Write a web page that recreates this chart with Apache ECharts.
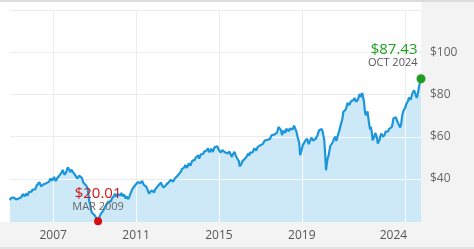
<!DOCTYPE html>
<html><head><meta charset="utf-8">
<script src="https://cdn.jsdelivr.net/npm/echarts@6/dist/echarts.min.js"></script>
<style>html,body{margin:0;padding:0;background:#f3f3f3;overflow:hidden}#c{width:474px;height:249px}</style>
</head><body><div id="c"></div>
<script>
// month-start dates and closing values
const dates = [
'2004-12',
'2005-01','2005-02','2005-03','2005-04','2005-05','2005-06','2005-07','2005-08','2005-09','2005-10','2005-11','2005-12',
'2006-01','2006-02','2006-03','2006-04','2006-05','2006-06','2006-07','2006-08','2006-09','2006-10','2006-11','2006-12',
'2007-01','2007-02','2007-03','2007-04','2007-05','2007-06','2007-07','2007-08','2007-09','2007-10','2007-11','2007-12',
'2008-01','2008-02','2008-03','2008-04','2008-05','2008-06','2008-07','2008-08','2008-09','2008-10','2008-11','2008-12',
'2009-01','2009-02','2009-03','2009-04','2009-05','2009-06','2009-07','2009-08','2009-09','2009-10','2009-11','2009-12',
'2010-01','2010-02','2010-03','2010-04','2010-05','2010-06','2010-07','2010-08','2010-09','2010-10','2010-11','2010-12',
'2011-01','2011-02','2011-03','2011-04','2011-05','2011-06','2011-07','2011-08','2011-09','2011-10','2011-11','2011-12',
'2012-01','2012-02','2012-03','2012-04','2012-05','2012-06','2012-07','2012-08','2012-09','2012-10','2012-11','2012-12',
'2013-01','2013-02','2013-03','2013-04','2013-05','2013-06','2013-07','2013-08','2013-09','2013-10','2013-11','2013-12',
'2014-01','2014-02','2014-03','2014-04','2014-05','2014-06','2014-07','2014-08','2014-09','2014-10','2014-11','2014-12',
'2015-01','2015-02','2015-03','2015-04','2015-05','2015-06','2015-07','2015-08','2015-09','2015-10','2015-11','2015-12',
'2016-01','2016-02','2016-03','2016-04','2016-05','2016-06','2016-07','2016-08','2016-09','2016-10','2016-11','2016-12',
'2017-01','2017-02','2017-03','2017-04','2017-05','2017-06','2017-07','2017-08','2017-09','2017-10','2017-11','2017-12',
'2018-01','2018-02','2018-03','2018-04','2018-05','2018-06','2018-07','2018-08','2018-09','2018-10','2018-11','2018-12',
'2019-01','2019-02','2019-03','2019-04','2019-05','2019-06','2019-07','2019-08','2019-09','2019-10','2019-11','2019-12',
'2020-01','2020-02','2020-03','2020-04','2020-05','2020-06','2020-07','2020-08','2020-09','2020-10','2020-11','2020-12',
'2021-01','2021-02','2021-03','2021-04','2021-05','2021-06','2021-07','2021-08','2021-09','2021-10','2021-11','2021-12',
'2022-01','2022-02','2022-03','2022-04','2022-05','2022-06','2022-07','2022-08','2022-09','2022-10','2022-11','2022-12',
'2023-01','2023-02','2023-03','2023-04','2023-05','2023-06','2023-07','2023-08','2023-09','2023-10','2023-11','2023-12',
'2024-01','2024-02','2024-03','2024-04','2024-05','2024-06','2024-07','2024-08','2024-09','2024-10'
];
const values = [
29.9,
30.8,31.2,31.4,30.2,30.7,31.5,32.0,32.2,32.6,32.0,33.8,34.2,
35.0,35.3,35.9,36.8,38.5,36.5,36.8,37.0,38.0,38.8,39.4,39.6,
39.8,40.5,39.7,40.1,42.0,43.2,44.1,42.5,44.5,45.6,43.2,43.7,
44.0,41.5,40.1,41.5,40.9,39.5,38.0,37.0,35.5,29.0,25.1,23.5,
22.8,21.5,20.01,22.3,23.5,25.0,26.7,28.0,29.2,30.0,30.7,31.8,
33.0,32.0,33.0,32.2,33.0,32.7,30.7,31.0,31.4,33.5,35.4,36.5,
37.5,38.5,38.9,38.5,38.1,37.0,36.2,35.4,32.2,34.6,34.0,35.0,
36.0,37.0,37.8,37.0,35.9,36.5,37.5,38.5,39.5,40.1,39.2,40.5,
41.5,42.5,43.5,44.5,45.5,46.4,46.0,47.0,47.5,48.0,49.0,50.2,
51.2,50.5,51.5,52.0,52.8,53.5,53.9,53.0,54.5,54.0,55.1,55.5,
53.6,52.5,53.6,53.6,53.0,52.0,53.0,52.8,51.5,52.8,50.5,49.6,
46.0,47.0,48.8,49.5,50.5,52.0,52.5,53.0,53.5,54.4,54.0,55.0,
56.0,56.7,57.5,57.8,58.5,59.1,59.8,60.5,61.0,61.5,63.0,65.4,
63.0,61.5,62.5,63.8,63.0,63.8,64.3,64.0,64.9,62.0,59.9,51.2,
54.0,56.7,58.0,59.1,56.5,58.5,59.9,57.5,59.0,60.5,63.0,63.4,
62.5,58.3,44.1,50.0,53.6,56.0,57.5,59.1,58.0,61.0,63.8,67.0,
71.7,72.5,74.5,76.4,75.5,77.0,77.3,78.5,77.0,79.0,80.0,80.7,
76.4,70.1,72.0,66.0,64.6,58.3,60.0,60.7,56.7,58.5,61.5,60.0,
61.0,63.0,62.5,63.8,64.5,68.6,69.5,67.8,66.0,64.3,69.4,72.5,
74.0,76.4,78.5,77.5,80.4,82.0,82.5,79.6,84.5,87.43
];
// mid-month values (between each month and the next)
const midValues = [
30.9,
30.4,31.9,30.3,29.9,31.6,31.3,32.8,31.8,33.0,32.3,34.6,34.0,
35.9,35.0,36.9,37.2,37.6,35.9,37.5,37.2,38.9,38.6,40.2,39.2,
40.9,39.0,40.6,41.5,42.2,44.3,42.0,43.0,45.5,44.6,44.4,43.2,
42.3,41.8,40.2,42.0,40.6,38.2,38.3,36.8,32.0,27.8,24.0,24.2,
22.9,20.5,21.0,23.3,23.9,25.2,27.6,28.2,30.1,29.5,31.6,32.0,
31.6,32.8,33.6,33.4,31.6,31.9,31.8,30.4,32.3,34.0,35.5,37.3,
37.6,39.2,38.0,39.0,37.2,37.6,37.0,33.0,33.0,35.3,33.6,35.8,
36.2,37.9,38.3,37.2,35.3,37.3,37.4,39.3,39.3,38.8,40.2,40.4,
42.4,42.3,44.6,44.3,46.6,45.2,47.3,46.3,48.6,47.9,50.0,49.8,
49.6,51.6,50.9,53.0,52.6,54.5,52.6,54.3,52.8,55.0,54.4,55.0,
54.2,52.2,54.3,52.6,53.4,51.5,53.6,50.4,51.0,52.3,51.0,48.5,
45.6,48.3,48.5,50.3,50.6,51.0,53.3,52.6,54.5,53.4,55.2,55.2,
56.9,56.6,58.2,57.5,59.4,58.9,60.7,60.1,61.9,61.8,64.6,64.6,
60.8,62.9,61.8,64.4,62.6,64.6,63.4,65.2,64.3,60.0,57.0,52.0,
55.9,56.6,58.9,59.4,56.2,59.6,58.2,58.6,58.4,61.9,62.6,63.6,
63.2,52.0,47.5,51.0,55.6,55.8,58.8,60.0,58.5,60.5,65.6,68.6,
71.0,73.0,76.0,75.0,76.9,76.2,78.4,76.5,77.6,80.2,78.8,80.0,
72.0,69.5,71.2,63.5,62.0,57.5,61.8,59.5,55.8,60.3,62.0,59.2,
62.4,61.5,63.7,63.4,65.8,68.3,69.2,67.4,65.8,66.0,71.5,72.7,
75.5,76.9,78.8,77.6,80.6,81.7,78.4,82.0,85.8
];
const xTickYears = [2007, 2011, 2015, 2019, 2024];
const yGridValues = [40, 60, 80, 100, 120];
const yLabelValues = [40, 60, 80, 100];
const lowPoint = { date: '2009-03', value: 20.01, label: 'MAR 2009' };
const lastPoint = { date: '2024-10', value: 87.43, label: 'OCT 2024' };
const xRange = ['2004-12', '2024-10'];

// 'YYYY-MM' -> decimal year (start of month)
function toYear(s) { const p = s.split('-'); return +p[0] + (+p[1] - 1) / 12; }

const seriesData = [];
dates.forEach((d, i) => {
  seriesData.push([toYear(d), values[i]]);
  if (i < midValues.length) seriesData.push([toYear(d) + 0.5 / 12, midValues[i]]);
});

const FONT = '"Open Sans", "Noto Sans", sans-serif';
const FILL = '#cde9f8';
const chart = echarts.init(document.getElementById('c'), null, { renderer: 'canvas' });
const lastTick = xTickYears[xTickYears.length - 1];

chart.setOption({
  animation: false,
  backgroundColor: '#f3f3f3',
  graphic: [
    { type: 'rect', z: -100, silent: true, shape: { x: 0, y: 2, width: 421, height: 220 }, style: { fill: '#ffffff' } },
    { type: 'rect', z: -100, silent: true, shape: { x: 0, y: 0, width: 474, height: 2 }, style: { fill: '#dcdcdc' } },
    { type: 'rect', z: -100, silent: true, shape: { x: 0, y: 247, width: 474, height: 2 }, style: { fill: '#e3e3e3' } }
  ],
  grid: { left: 10, right: 53, top: 10, bottom: 27, containLabel: false },
  xAxis: {
    type: 'value',
    min: toYear(xRange[0]),
    max: toYear(xRange[1]),
    axisLine: { show: false },
    axisTick: { show: false, customValues: xTickYears },
    splitLine: { show: true, lineStyle: { color: '#ececec', width: 1 } },
    axisLabel: {
      customValues: xTickYears,
      margin: 8,
      fontFamily: FONT, fontSize: 12, color: '#555',
      formatter: function (v) {
        return v === lastTick ? '{r|' + v + '}' : String(v);
      },
      rich: { r: { fontFamily: FONT, fontSize: 12, color: '#555', padding: [0, 24, 0, 0] } }
    }
  },
  yAxis: {
    type: 'value',
    position: 'right',
    min: 19.6,
    max: 120,
    axisLine: { show: false },
    axisTick: { show: false, customValues: yGridValues },
    splitLine: { show: true, lineStyle: { color: '#ececec', width: 1 } },
    axisLabel: {
      customValues: yLabelValues,
      margin: 9,
      fontFamily: FONT, fontSize: 12, color: '#666',
      formatter: v => '$' + v
    }
  },
  series: [{
    type: 'line',
    data: seriesData,
    showSymbol: false,
    clip: false,
    lineStyle: { color: '#1b96dc', width: 2.2 },
    areaStyle: { color: FILL, opacity: 1 },
    markPoint: {
      symbol: 'circle',
      data: [
        {
          coord: [toYear(lowPoint.date), lowPoint.value], symbolSize: 8,
          itemStyle: { color: '#d40f14' },
          label: {
            show: true, position: 'top', distance: 4, align: 'center',
            formatter: '{v|$' + lowPoint.value.toFixed(2) + '}\n{d|' + lowPoint.label + '}',
            rich: {
              v: { fontFamily: FONT, fontSize: 15, lineHeight: 15, color: '#cc1818', align: 'center' },
              d: { fontFamily: FONT, fontSize: 11, lineHeight: 12, color: '#666', align: 'center' }
            }
          }
        },
        {
          coord: [toYear(lastPoint.date), lastPoint.value], symbolSize: 9,
          itemStyle: { color: '#1e9e1e' },
          label: {
            show: true, position: [1, -5], align: 'right', verticalAlign: 'bottom',
            formatter: '{v|$' + lastPoint.value.toFixed(2) + '}\n{d|' + lastPoint.label + '}',
            rich: {
              v: { fontFamily: FONT, fontSize: 15, lineHeight: 16, color: '#22a022', align: 'right' },
              d: { fontFamily: FONT, fontSize: 11, lineHeight: 12, color: '#555', align: 'right' }
            }
          }
        }
      ]
    }
  }]
});

// Area fill with faint white gridlines running through it (positions from the chart's own scales)
(function () {
  const w = chart.getWidth(), h = chart.getHeight();
  const cv = document.createElement('canvas');
  cv.width = w; cv.height = h;
  const ctx = cv.getContext('2d');
  ctx.fillStyle = FILL;
  ctx.fillRect(0, 0, w, h);
  ctx.strokeStyle = 'rgba(255,255,255,0.85)';
  ctx.lineWidth = 1;
  const x0 = chart.convertToPixel({ gridIndex: 0 }, [toYear(xRange[0]), 0])[0];
  const x1 = chart.convertToPixel({ gridIndex: 0 }, [toYear(xRange[1]), 0])[0];
  yGridValues.forEach(v => {
    const y = Math.round(chart.convertToPixel({ gridIndex: 0 }, [toYear(xRange[0]), v])[1]) + 0.5;
    ctx.beginPath(); ctx.moveTo(x0, y); ctx.lineTo(x1, y); ctx.stroke();
  });
  xTickYears.forEach(v => {
    const x = Math.round(chart.convertToPixel({ gridIndex: 0 }, [v, 0])[0]) + 0.5;
    ctx.beginPath(); ctx.moveTo(x, 0); ctx.lineTo(x, h); ctx.stroke();
  });
  chart.setOption({ series: [{ areaStyle: { color: { image: cv, repeat: 'no-repeat' } } }] });
})();
</script></body></html>
